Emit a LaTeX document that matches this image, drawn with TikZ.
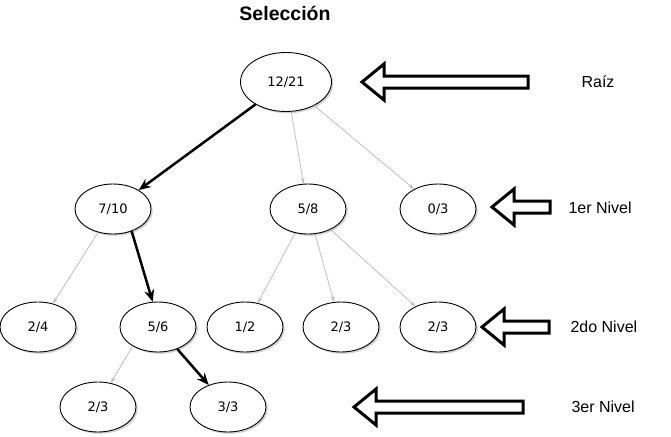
\documentclass[tikz,border=0pt]{standalone}
\usepackage{fontspec}
\setmainfont{Liberation Sans}
\newfontfamily\nodefont{DejaVu Sans}
\definecolor{edgegray}{RGB}{190, 190, 190}
\usetikzlibrary{shapes.geometric, arrows.meta, shadows}

\begin{document}
\begin{tikzpicture}[x=1pt, y=-1pt,
  tnode/.style={draw, ellipse, fill=white, line width=0.9pt, minimum width=76pt, minimum height=50pt, inner sep=0pt,
    font=\nodefont\fontsize{13}{15}\selectfont,
    drop shadow={shadow xshift=1.8pt, shadow yshift=-1.8pt, opacity=0.35}},
  pick/.style={line width=2.5pt, -{Stealth[length=12pt, width=10pt]}},
  skip/.style={edgegray, line width=0.8pt, -{Stealth[length=6pt, width=4pt]}},
  blockarrow/.style={draw, line width=3pt, fill=white, line join=miter},
  lvl/.style={font=\fontsize{16}{18}\selectfont}]
  \useasboundingbox (0,0) rectangle (671,436);

  % Title
  \node[font=\bfseries\fontsize{19.5}{22}\selectfont, anchor=base] (title) at (285,21) {Selección};

  % Tree
  \node[tnode, minimum width=91pt, minimum height=59pt] (root) at (286,82) {12/21};
  \node[tnode] (l1left) at (113,209) {7/10};
  \node[tnode] (l1mid) at (308,209) {5/8};
  \node[tnode] (l1right) at (438,209) {0/3};
  \node[tnode] (l2a) at (38,327) {2/4};
  \node[tnode] (l2b) at (158,327) {5/6};
  \node[tnode] (l2c) at (245,327) {1/2};
  \node[tnode] (l2d) at (341,327) {2/3};
  \node[tnode] (l2e) at (438,327) {2/3};
  \node[tnode] (l3a) at (98,407) {2/3};
  \node[tnode] (l3b) at (228,407) {3/3};

  % Connectors
  \draw[pick] (root) -- (l1left);
  \draw[skip] (root) -- (l1mid);
  \draw[skip] (root) -- (l1right);
  \draw[skip] (l1left) -- (l2a);
  \draw[pick] (l1left.-50) -- (l2b.102);
  \draw[skip] (l1mid) -- (l2c);
  \draw[skip] (l1mid) -- (l2d);
  \draw[skip] (l1mid) -- (l2e);
  \draw[skip] (l2b.-143) -- (l3a.62);
  \draw[pick] (l2b) -- (l3b);

  % Level arrows
  \foreach \tipx/\ty/\endx in {362/82/528, 492/207/550, 482/327/549, 354/407/523}
    \draw[blockarrow] (\tipx,\ty) -- ++(22,-18) -- ++(0,12) -- (\endx,\ty-6)
      -- (\endx,\ty+6) -- (\tipx+22,\ty+6) -- ++(0,12) -- cycle;

  % Level labels
  \node[lvl] (raiz) at (598,82) {Raíz};
  \node[lvl, anchor=west] (nivel1) at (565,208) {1er Nivel};
  \node[lvl, anchor=west] (nivel2) at (567,327) {2do Nivel};
  \node[lvl, anchor=west] (nivel3) at (568,407) {3er Nivel};
\end{tikzpicture}
\end{document}
